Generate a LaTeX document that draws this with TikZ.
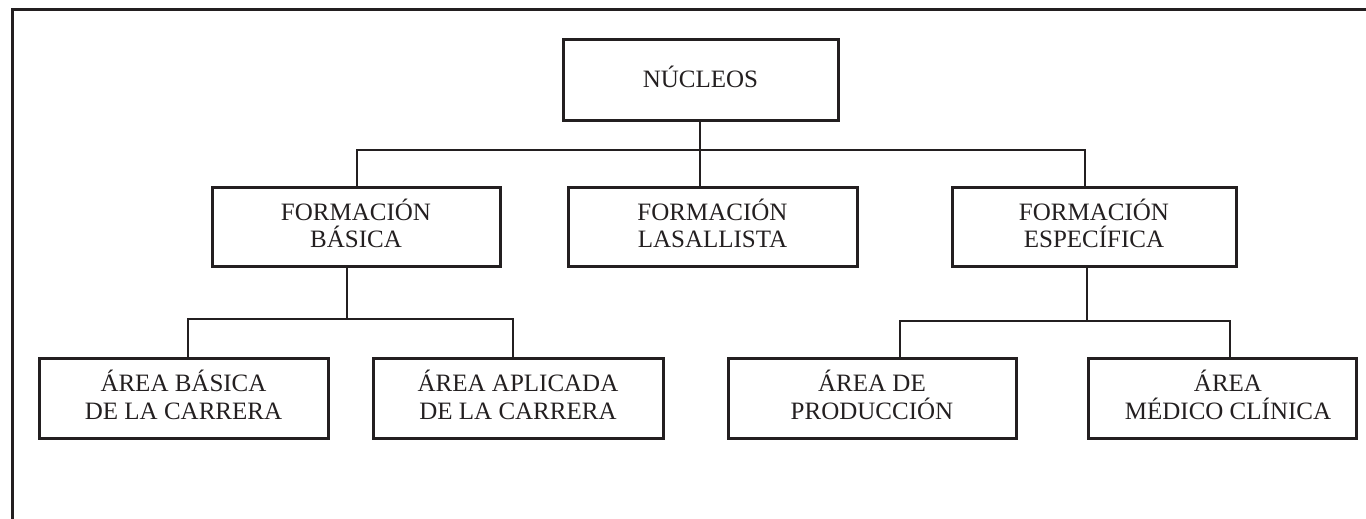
\documentclass[tikz,border=0pt]{standalone}
\usepackage{fontspec}
\setmainfont{Liberation Serif}
\definecolor{ink}{HTML}{231F20}
\begin{document}
\begin{tikzpicture}[x=1pt,y=-1pt,
  box/.style={draw=ink,line width=3pt,inner sep=0pt,minimum height=80pt},
  lab/.style={inner sep=0pt,align=center,text=ink,yshift=3pt,
    font=\fontsize{25}{27.3}\selectfont},
  conn/.style={draw=ink,line width=2.8pt,line cap=rect}]
\useasboundingbox (0,0) rectangle (1366,519);
\draw[ink,line width=3pt] (1366,10) -- (12,10) -- (12,519);
% nodes
\node[box,minimum width=275pt,label={[lab]center:NÚCLEOS}] (nuc) at (700.5,80) {};
\node[box,minimum width=288pt,minimum height=79pt,label={[lab]center:{FORMACIÓN\\BÁSICA}}] (fb) at (356,226.5) {};
\node[box,minimum width=289pt,minimum height=79pt,label={[lab]center:{FORMACIÓN\\LASALLISTA}}] (fl) at (712.5,226.5) {};
\node[box,minimum width=284pt,minimum height=79pt,label={[lab]center:{FORMACIÓN\\ESPECÍFICA}}] (fe) at (1094,226.5) {};
\node[box,minimum width=289pt,label={[lab]center:{ÁREA BÁSICA\\DE LA CARRERA}}] (ab) at (183.5,398) {};
\node[box,minimum width=290pt,label={[lab]center:{ÁREA APLICADA\\DE LA CARRERA}}] (aa) at (518,398) {};
\node[box,minimum width=288pt,label={[lab]center:{ÁREA DE\\PRODUCCIÓN}}] (ap) at (872,398) {};
\node[box,minimum width=268pt,label={[lab,xshift=6pt]center:{ÁREA\\MÉDICO CLÍNICA}}] (am) at (1222,398) {};
% bus coordinates
\coordinate (b1) at (700,150);
\coordinate (b1l) at (357,150);
\coordinate (b1r) at (1085,150);
\coordinate (b2) at (347,319);
\coordinate (b2l) at (188,319);
\coordinate (b2r) at (513,319);
\coordinate (b3) at (1087,321);
\coordinate (b3l) at (900,321);
\coordinate (b3r) at (1230,321);
% connectors
\draw[conn] (nuc.south -| b1) -- (b1);
\draw[conn] (b1l |- fb.north) -- (b1l) -- (b1r) -- (b1r |- fe.north);
\draw[conn] (b1) -- (b1 |- fl.north);
\draw[conn] (fb.south -| b2) -- (b2);
\draw[conn] (b2l |- ab.north) -- (b2l) -- (b2r) -- (b2r |- aa.north);
\draw[conn] (fe.south -| b3) -- (b3);
\draw[conn] (b3l |- ap.north) -- (b3l) -- (b3r) -- (b3r |- am.north);
\end{tikzpicture}
\end{document}
